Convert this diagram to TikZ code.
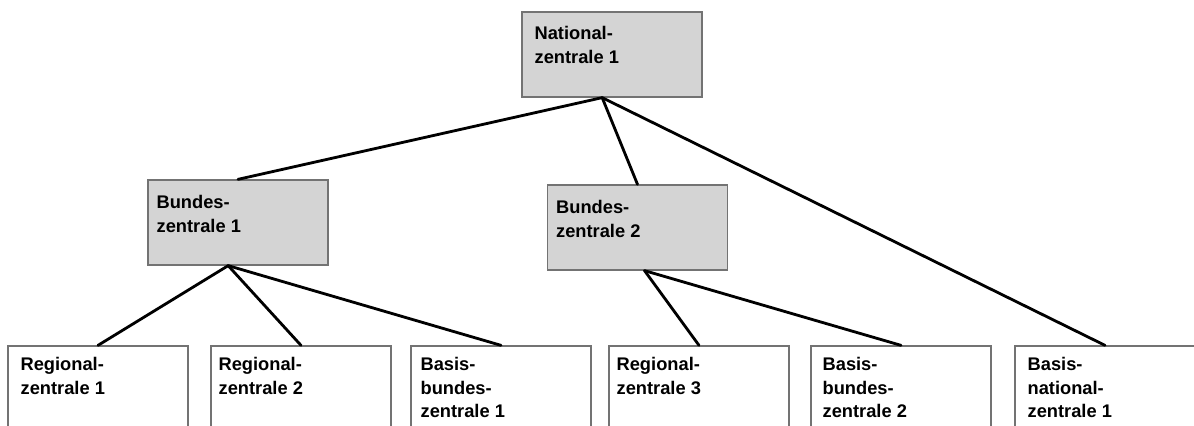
\documentclass[tikz,border=0pt]{standalone}
\usepackage{fontspec}
\setmainfont{Liberation Sans}
\tikzset{zelle/.style={draw=black!55,line width=0.9pt,rectangle,minimum width=4.5cm,minimum height=2.125cm,inner sep=0},
    grauzelle/.style={zelle,fill=black!17},
    weisszelle/.style={zelle,fill=white,minimum height=2.5cm},
    zelltext/.style={anchor=north west,align=left,inner sep=0,font=\bfseries\fontsize{13}{16.5}\selectfont},
    verbindung/.style={line width=2pt,line cap=round}}
\begin{document}
\begin{tikzpicture}[x=0.025cm,y=-0.025cm]

\useasboundingbox (0,0) rectangle (1194,426);
\clip (0,0) rectangle (1194,426);

\node (nz 1) [grauzelle] at (612,54.5) {};
\node (bz 1) [grauzelle] at (238,222.5) {};
\node (bz 2) [grauzelle] at (637.5,227.5) {};

\node (rz 1) [weisszelle] at (98,396) {};
\node (rz 2) [weisszelle] at (301,396) {};
\node (bb 1) [weisszelle] at (501,396) {};
\node (rz 3) [weisszelle] at (699,396) {};
\node (bb 2) [weisszelle] at (901,396) {};
\node (bn 1) [weisszelle] at (1105,396) {};

\node (nz 1 text) [zelltext] at ([shift={(13,15)}]nz 1.north west) {National-\\zentrale 1};
\node (bz 1 text) [zelltext] at ([shift={(9,16)}]bz 1.north west) {Bundes-\\zentrale 1};
\node (bz 2 text) [zelltext] at ([shift={(9,16)}]bz 2.north west) {Bundes-\\zentrale 2};
\node (rz 1 text) [zelltext] at ([shift={(13,12)}]rz 1.north west) {Regional-\\zentrale 1};
\node (rz 2 text) [zelltext] at ([shift={(8,12)}]rz 2.north west) {Regional-\\zentrale 2};
\node (bb 1 text) [zelltext] at ([shift={(10,12)}]bb 1.north west) {Basis-\\bundes-\\zentrale 1};
\node (rz 3 text) [zelltext] at ([shift={(8,12)}]rz 3.north west) {Regional-\\zentrale 3};
\node (bb 2 text) [zelltext] at ([shift={(12,12)}]bb 2.north west) {Basis-\\bundes-\\zentrale 2};
\node (bn 1 text) [zelltext] at ([shift={(13,12)}]bn 1.north west) {Basis-\\national-\\zentrale 1};

\draw [verbindung] ([xshift=-7]nz 1.south) -- (bz 1.north);
\draw [verbindung] ([xshift=-7]nz 1.south) -- (bz 2.north);
\draw [verbindung] ([xshift=-7]nz 1.south) -- (bn 1.north);
\draw [verbindung] ([xshift=-7]bz 1.south) -- (rz 1.north);
\draw [verbindung] ([xshift=-7]bz 1.south) -- (rz 2.north);
\draw [verbindung] ([xshift=-7]bz 1.south) -- (bb 1.north);
\draw [verbindung] ([xshift=5]bz 2.south) -- (rz 3.north);
\draw [verbindung] ([xshift=5]bz 2.south) -- (bb 2.north);

\end{tikzpicture}
\end{document}
